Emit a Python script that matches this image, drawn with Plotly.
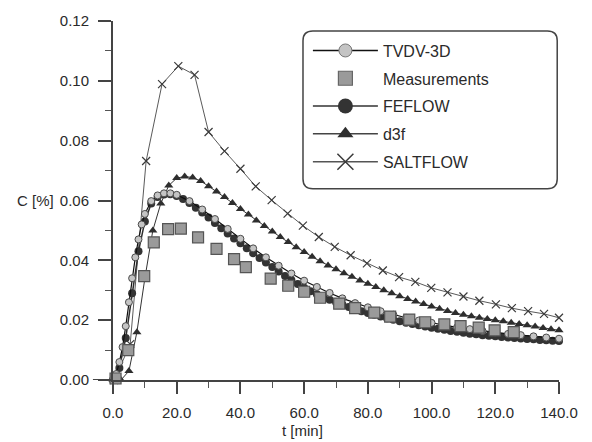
import plotly.graph_objects as go

# ---------------- data ----------------
salt_t = [0.4, 5.4, 10.4, 15.4, 20.5, 25.6, 30.0, 35.0, 40.0, 44.8, 49.8, 54.8, 59.6, 64.6,
          69.6, 74.6, 79.7, 84.7, 89.8, 94.9, 99.9, 105.0, 110.0, 115.0, 120.2, 125.2,
          130.3, 135.3, 140.0]
salt_c = [0.0, 0.012, 0.0732, 0.0989, 0.1049, 0.1020, 0.0829, 0.0765, 0.0706, 0.0647, 0.0601,
          0.0556, 0.0516, 0.0478, 0.0445, 0.0417, 0.0390, 0.0366, 0.0344, 0.0328, 0.0308,
          0.0293, 0.0279, 0.0265, 0.0253, 0.0240, 0.0230, 0.0221, 0.0208]

d3f_t = [0, 2.5, 5, 7.5, 10, 12.5, 15, 17.5, 20, 22.5, 25, 27.5, 30, 32.5, 35, 37.5, 40, 42.5,
         45, 47.5, 50, 52.5, 55, 57.5, 60, 62.5, 65, 67.5, 70, 72.5, 75, 77.5, 80, 82.5, 85,
         87.5, 90, 92.5, 95, 97.5, 100, 102.5, 105, 107.5, 110, 112.5, 115, 117.5, 120,
         122.5, 125, 127.5, 130, 132.5, 135, 137.5, 140]
d3f_c = [0.0, 0.0, 0.003, 0.016, 0.034, 0.050, 0.059, 0.065, 0.0675, 0.068, 0.0677, 0.0665,
         0.0648, 0.0630, 0.0612, 0.0592, 0.0572, 0.0553, 0.0533, 0.0515, 0.0496, 0.0478,
         0.0461, 0.0444, 0.0428, 0.0412, 0.0397, 0.0383, 0.0370, 0.0357, 0.0345, 0.0333,
         0.0322, 0.0311, 0.0300, 0.0290, 0.0280, 0.0271, 0.0262, 0.0254, 0.0246, 0.0238,
         0.0231, 0.0224, 0.0218, 0.0213, 0.0208, 0.0204, 0.0200, 0.0196, 0.0191, 0.0187,
         0.0183, 0.0179, 0.0174, 0.0170, 0.0166]

fe_t = [0, 2, 4, 6, 8, 10, 12, 14, 16, 18, 20, 22, 24, 26, 28, 30, 32, 34, 36, 38, 40, 42,
        44, 46, 48, 50, 52, 54, 56, 58, 60, 62, 64, 66, 68, 70, 72, 74, 76, 78, 80, 82, 84,
        86, 88, 90, 92, 94, 96, 98, 100, 102, 104, 106, 108, 110, 112, 114, 116, 118, 120,
        122, 124, 126, 128, 130, 132, 134, 136, 138, 140]
fe_c = [0.0, 0.004, 0.014, 0.029, 0.043, 0.053, 0.059, 0.0612, 0.0620, 0.0621, 0.0615,
        0.0605, 0.0592, 0.0576, 0.0560, 0.0543, 0.0525, 0.0507, 0.0490, 0.0473, 0.0457,
        0.0440, 0.0424, 0.0408, 0.0393, 0.0378, 0.0363, 0.0348, 0.0334, 0.0321, 0.0308,
        0.0297, 0.0287, 0.0277, 0.0268, 0.0260, 0.0252, 0.0244, 0.0237, 0.0230, 0.0224,
        0.0218, 0.0212, 0.0206, 0.0201, 0.0196, 0.0191, 0.0187, 0.0183, 0.0179, 0.0175,
        0.0171, 0.0168, 0.0164, 0.0161, 0.0158, 0.0155, 0.0153, 0.0150, 0.0148, 0.0146,
        0.0144, 0.0142, 0.0140, 0.0139, 0.0137, 0.0136, 0.0134, 0.0133, 0.0131, 0.0130]

tv_t = [0, 1, 2, 3, 4, 5, 6, 7, 8, 9, 10, 12, 14, 16, 18, 20, 24, 28, 32, 36, 40, 44, 48,
        52, 56, 60, 64, 68, 72, 76, 80, 84, 88, 92, 96, 100, 104, 108, 112, 116, 120, 124,
        128, 132, 136, 140]
tv_c = [0.0, 0.002, 0.006, 0.011, 0.018, 0.026, 0.034, 0.041, 0.047, 0.052, 0.0555, 0.0598,
        0.0617, 0.0624, 0.0624, 0.0619, 0.0598, 0.0570, 0.0538, 0.0505, 0.0472, 0.0440,
        0.0410, 0.0382, 0.0356, 0.0332, 0.0311, 0.0291, 0.0273, 0.0257, 0.0243, 0.0230,
        0.0218, 0.0208, 0.0199, 0.0191, 0.0183, 0.0176, 0.0170, 0.0164, 0.0159, 0.0154,
        0.0150, 0.0146, 0.0142, 0.0138]

meas_t = [0.8, 4.8, 9.8, 12.8, 17.3, 21.3, 26.7, 32.5, 38.0, 41.7, 49.5, 55, 60, 65, 71, 76,
          82, 87, 93, 98, 104, 109.1, 114.8, 119.8, 125.8]
meas_c = [0.0005, 0.010, 0.0347, 0.0460, 0.0504, 0.0506, 0.0477, 0.0438, 0.0404, 0.0377,
          0.0339, 0.0315, 0.0295, 0.0275, 0.0255, 0.0240, 0.0225, 0.0212, 0.0202, 0.0193,
          0.0186, 0.0180, 0.0175, 0.0166, 0.0160]

x_ticks = [0, 20, 40, 60, 80, 100, 120, 140]
y_ticks = [0.00, 0.02, 0.04, 0.06, 0.08, 0.10, 0.12]

# ---------------- styles ----------------
FONT = "Liberation Sans, Arial, sans-serif"
INK = "#2a2a2a"

styles = {
    "SALTFLOW": dict(mode="lines+markers", line=dict(color="#5a5a5a", width=1),
                     marker=dict(symbol="x-thin", size=8,
                                 line=dict(color="#3a3a3a", width=1.2))),
    "d3f": dict(mode="lines+markers", line=dict(color="#333333", width=1),
                marker=dict(symbol="triangle-up", size=8, color="#2e2e2e")),
    "FEFLOW": dict(mode="lines+markers", line=dict(color="#2e2e2e", width=1.5),
                   marker=dict(symbol="circle", size=8, color="#333333")),
    "TVDV-3D": dict(mode="lines+markers", line=dict(color="#111111", width=1.2),
                    marker=dict(symbol="circle", size=7, color="#c4c4c4",
                                line=dict(color="#4a4a4a", width=1))),
    "Measurements": dict(mode="markers",
                         marker=dict(symbol="square", size=11, color="#9a9a9a",
                                     line=dict(color="#555555", width=1.2))),
}
legend_styles = {
    "TVDV-3D": dict(mode="lines+markers", line=dict(color="#111111", width=1.5),
                    marker=dict(symbol="circle", size=13, color="#c4c4c4",
                                line=dict(color="#777777", width=1))),
    "Measurements": dict(mode="markers",
                         marker=dict(symbol="square", size=14, color="#9a9a9a",
                                     line=dict(color="#666666", width=1.2))),
    "FEFLOW": dict(mode="lines+markers", line=dict(color="#333333", width=1.5),
                   marker=dict(symbol="circle", size=15, color="#333333")),
    "d3f": dict(mode="lines+markers", line=dict(color="#444444", width=1.5),
                marker=dict(symbol="triangle-up", size=14, color="#2e2e2e")),
    "SALTFLOW": dict(mode="lines+markers", line=dict(color="#555555", width=1.5),
                     marker=dict(symbol="x-thin", size=16,
                                 line=dict(color="#3a3a3a", width=1.5))),
}

series = [("SALTFLOW", salt_t, salt_c), ("d3f", d3f_t, d3f_c), ("FEFLOW", fe_t, fe_c),
          ("TVDV-3D", tv_t, tv_c), ("Measurements", meas_t, meas_c)]

fig = go.Figure()
for name, xs, ys in series:
    fig.add_trace(go.Scatter(x=xs, y=ys, name=name, showlegend=False,
                             cliponaxis=False, **styles[name]))

legend_order = ["TVDV-3D", "Measurements", "FEFLOW", "d3f", "SALTFLOW"]
for i, name in enumerate(legend_order):
    fig.add_trace(go.Scatter(x=[None], y=[None], name=name, showlegend=True,
                             legendrank=i + 1, legendgroup=name,
                             **legend_styles[name]))

# rounded legend frame (paper coordinates)
x0, x1, y0, y1 = 0.426, 0.996, 0.533, 0.972
rx, ry = 0.022, 0.027
path = (f"M {x0+rx},{y0} L {x1-rx},{y0} Q {x1},{y0} {x1},{y0+ry} "
        f"L {x1},{y1-ry} Q {x1},{y1} {x1-rx},{y1} L {x0+rx},{y1} "
        f"Q {x0},{y1} {x0},{y1-ry} L {x0},{y0+ry} Q {x0},{y0} {x0+rx},{y0} Z")
fig.add_shape(type="path", path=path, xref="paper", yref="paper",
              line=dict(color="#444444", width=1.5), fillcolor="rgba(0,0,0,0)")

# extension of the x axis line to the left (0.00 tick)
fig.add_shape(type="line", xref="paper", yref="y", x0=-0.045, x1=0, y0=0, y1=0,
              line=dict(color="#444444", width=2))

fig.add_annotation(text="C [%]", xref="paper", yref="y", x=-0.128, y=0.06,
                   xanchor="right", yanchor="middle", showarrow=False,
                   font=dict(family=FONT, size=15, color=INK))
fig.add_annotation(text="t [min]", xref="paper", yref="paper", x=0.424, y=-0.142,
                   xanchor="center", yanchor="middle", showarrow=False,
                   font=dict(family=FONT, size=15, color=INK))

fig.update_layout(
    width=592, height=442,
    margin=dict(l=113, r=33, t=14, b=62),
    paper_bgcolor="white", plot_bgcolor="white",
    font=dict(family=FONT, size=15, color=INK),
    showlegend=True,
    legend=dict(x=0.437, y=0.965, xanchor="left", yanchor="top",
                bgcolor="rgba(0,0,0,0)", borderwidth=0,
                font=dict(family=FONT, size=16, color=INK),
                traceorder="grouped", tracegroupgap=4, itemwidth=65,
                itemsizing="trace"),
    xaxis=dict(range=[0, 140], tickvals=x_ticks,
               ticktext=[f"{v:.1f}" for v in x_ticks],
               showgrid=False, zeroline=False, showline=True,
               linecolor="#444444", linewidth=2,
               ticks="outside", ticklen=12, tickwidth=1.5, tickcolor="#444444",
               ticklabelstandoff=6,
               minor=dict(dtick=10, ticks="outside", ticklen=6, tickwidth=1.2,
                          tickcolor="#555555")),
    yaxis=dict(range=[0, 0.12], tickvals=y_ticks,
               ticktext=[f"{v:.2f}" for v in y_ticks],
               showgrid=False, zeroline=False, showline=True,
               linecolor="#444444", linewidth=2,
               ticks="outside", ticklen=13, tickwidth=1.5, tickcolor="#444444",
               ticklabelstandoff=6,
               minor=dict(dtick=0.01, ticks="outside", ticklen=6, tickwidth=1.2,
                          tickcolor="#555555")),
)

fig.write_html("out.html")
